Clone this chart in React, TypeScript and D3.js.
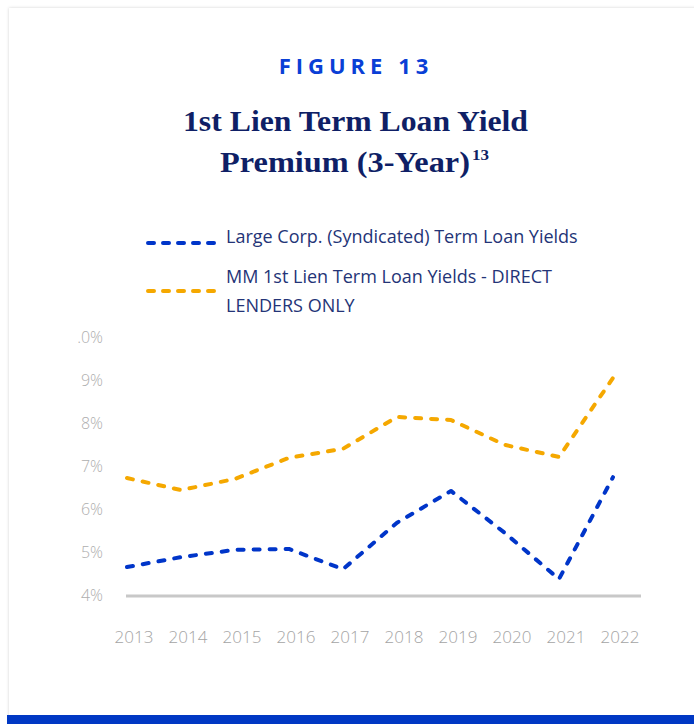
import React from "react";
import * as d3 from "d3";

const years = ["2013", "2014", "2015", "2016", "2017", "2018", "2019", "2020", "2021", "2022"];
const largeCorp = [4.65, 4.88, 5.05, 5.07, 4.6, 5.68, 6.42, 5.44, 4.37, 6.74];
const mmDirect = [6.72, 6.44, 6.7, 7.19, 7.4, 8.14, 8.07, 7.49, 7.21, 9.05];
const yTicks = [4, 5, 6, 7, 8, 9, 10];
const yTickLabels = ["4%", "5%", "6%", "7%", "8%", "9%", "10.0%"];
const seriesNames = ["Large Corp. (Syndicated) Term Loan Yields", "MM 1st Lien Term Loan Yields - DIRECT", "LENDERS ONLY"];

const BLUE = "#0035c9";
const ORANGE = "#f5a800";
const NAVY = "#0f1f66";
const LEGEND_TEXT = "#243477";

export default function App() {
  const x = d3.scalePoint<string>().domain(years).range([127, 613]);
  const y = d3.scaleLinear().domain([4, 10]).range([595, 337]);
  const line = d3
    .line<number>()
    .x((_, i) => x(years[i]) as number)
    .y((d) => y(d));

  return (
    <svg width={694} height={724} style={{ position: "absolute", left: 0, top: 0, background: "#fff" }}>
      <defs>
        <filter id="sh" x="-5%" y="-5%" width="110%" height="110%">
          <feDropShadow dx="0" dy="0" stdDeviation="1.5" floodColor="#000" floodOpacity="0.18" />
        </filter>
        <clipPath id="yclip">
          <rect x={78} y={0} width={100} height={724} />
        </clipPath>
      </defs>
      <rect x={9} y={8} width={700} height={720} fill="#fff" filter="url(#sh)" />
      <rect x={7} y={715} width={687} height={9} fill="#0038c4" />

      <text x={356} y={74} textAnchor="middle" fill="#0a3fd6" fontFamily="'Open Sans', sans-serif" fontWeight={700} fontSize={22} letterSpacing={5}>
        FIGURE 13
      </text>
      <text x={183} y={131} textLength={345} lengthAdjust="spacingAndGlyphs" fill={NAVY} fontFamily="'Liberation Serif', serif" fontWeight={700} fontSize={29}>
        1st Lien Term Loan Yield
      </text>
      <text x={220} y={172} textLength={250} lengthAdjust="spacingAndGlyphs" fill={NAVY} fontFamily="'Liberation Serif', serif" fontWeight={700} fontSize={29}>
        Premium (3-Year)
      </text>
      <text x={472} y={160} fill={NAVY} fontFamily="'Liberation Serif', serif" fontWeight={700} fontSize={15} textLength={17} lengthAdjust="spacingAndGlyphs">
        13
      </text>

      <line x1={148} x2={214} y1={243} y2={243} stroke={BLUE} strokeWidth={4} strokeDasharray="6 9" strokeLinecap="round" />
      <text x={226} y={237} dy="0.35em" fill={LEGEND_TEXT} fontFamily="'Open Sans', sans-serif" fontSize={18}>
        {seriesNames[0]}
      </text>
      <line x1={148} x2={214} y1={291} y2={291} stroke={ORANGE} strokeWidth={4} strokeDasharray="6 9" strokeLinecap="round" />
      <text x={226} y={277} dy="0.35em" fill={LEGEND_TEXT} fontFamily="'Open Sans', sans-serif" fontSize={18}>
        {seriesNames[1]}
      </text>
      <text x={226} y={306} dy="0.35em" fill={LEGEND_TEXT} fontFamily="'Open Sans', sans-serif" fontSize={18}>
        {seriesNames[2]}
      </text>

      <g clipPath="url(#yclip)">
        {yTicks.map((t, i) => (
          <text key={t} x={103} y={y(t)} dy="0.35em" textAnchor="end" fill="#aeaeae" fontFamily="'Open Sans', sans-serif" fontWeight={300} fontSize={16}>
            {yTickLabels[i]}
          </text>
        ))}
      </g>

      <line x1={126} x2={641} y1={596} y2={596} stroke="#c8c8c8" strokeWidth={3} />

      {years.map((yr) => (
        <text key={yr} x={(x(yr) as number) + 7} y={637} dy="0.35em" textAnchor="middle" fill="#a4a4a4" fontFamily="'Open Sans', sans-serif" fontWeight={300} fontSize={17}>
          {yr}
        </text>
      ))}

      <path d={line(mmDirect) || ""} fill="none" stroke={ORANGE} strokeWidth={4} strokeDasharray="6 10" strokeLinecap="round" strokeLinejoin="round" />
      <path d={line(largeCorp) || ""} fill="none" stroke={BLUE} strokeWidth={4} strokeDasharray="6 10" strokeLinecap="round" strokeLinejoin="round" />
    </svg>
  );
}
